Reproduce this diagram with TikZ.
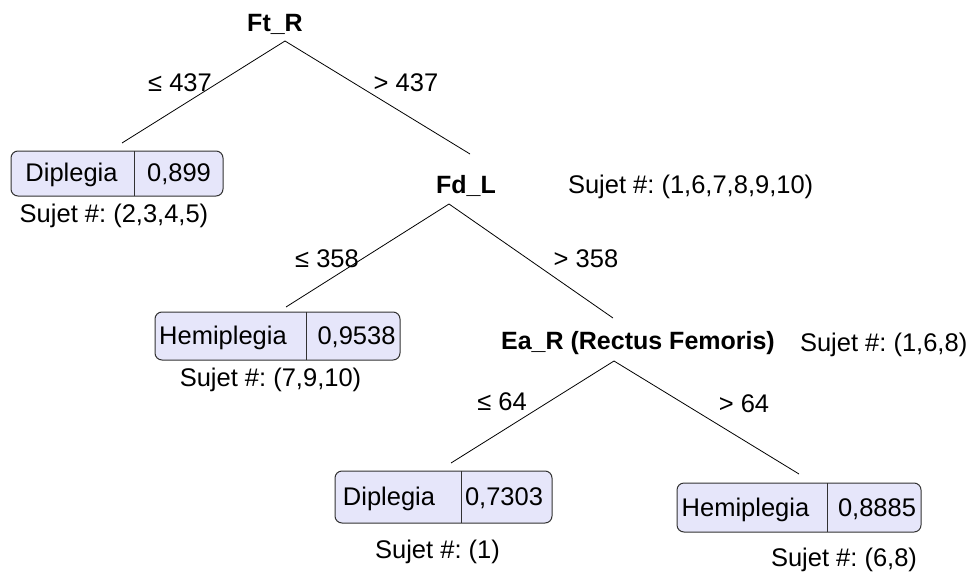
\documentclass[tikz,border=0pt]{standalone}
\usepackage{fontspec}
\setmainfont{Liberation Sans}
\frenchspacing
\definecolor{leaffill}{RGB}{230,230,250}
\definecolor{leafline}{RGB}{50,50,50}
\begin{document}
\begin{tikzpicture}[x=1pt,y=-1pt,
  every node/.style={font=\fontsize{25.5}{30}\selectfont\frenchspacing, inner sep=0pt, outer sep=0pt},
  leafbox/.style={draw=leafline, fill=leaffill, rounded corners=7pt, line width=1pt},
  txt/.style={anchor=base},
  txtw/.style={anchor=base west},
  splitlbl/.style={anchor=base, font=\fontsize{25}{30}\selectfont\bfseries},
  edgeline/.style={line width=0.8pt, black},
  divider/.style={line width=1pt, leafline}]
\path[use as bounding box] (0,0) rectangle (973,583);

% split nodes
\node[splitlbl] (ftr) at (275,32) {Ft\_R};
\node[splitlbl] (fdl) at (466,193) {Fd\_L};
\node[splitlbl] (ear) at (638,349) {Ea\_R (Rectus Femoris)};

\coordinate (ftrA) at (285,41);
\coordinate (fdlA) at (449,204);
\coordinate (earA) at (614,361);
\coordinate (e1L) at (122,143);
\coordinate (e1R) at (470,154);
\coordinate (e2L) at (286,307);
\coordinate (e2R) at (613,318);
\coordinate (e3L) at (451,463);
\coordinate (e3R) at (799,474);

\draw[edgeline] (ftrA) -- (e1L);
\draw[edgeline] (ftrA) -- (e1R);
\draw[edgeline] (fdlA) -- (e2L);
\draw[edgeline] (fdlA) -- (e2R);
\draw[edgeline] (earA) -- (e3L);
\draw[edgeline] (earA) -- (e3R);

% edge labels
\node[txt] (t1) at (180,92) {≤ 437};
\node[txt] (t2) at (406,92) {> 437};
\node[txt] (t3) at (327,267) {≤ 358};
\node[txt] (t4) at (586,267) {> 358};
\node[txt] (t5) at (502,410) {≤ 64};
\node[txt] (t6) at (744,412) {> 64};

% leaf 1
\node[leafbox, minimum width=212pt, minimum height=45pt] (l1) at (117,173.5) {};
\coordinate (l1d) at (134,0);
\draw[divider] (l1d |- l1.north) -- (l1d |- l1.south);
\node[txt] (l1a) at (71.5,181.5) {Diplegia};
\node[txt] (l1b) at (179,181.5) {0,899};
\node[txt] (s1) at (114,222) {Sujet \#: (2,3,4,5)};

% leaf 2
\node[leafbox, minimum width=245pt, minimum height=48pt] (l2) at (277.5,336) {};
\coordinate (l2d) at (306,0);
\draw[divider] (l2d |- l2.north) -- (l2d |- l2.south);
\node[txt] (l2a) at (223,344.5) {Hemiplegia};
\node[txt] (l2b) at (356.5,344.5) {0,9538};
\node[txt] (s2) at (270.5,386) {Sujet \#: (7,9,10)};

% leaf 3
\node[leafbox, minimum width=217pt, minimum height=52pt] (l3) at (443.5,497) {};
\coordinate (l3d) at (461,0);
\draw[divider] (l3d |- l3.north) -- (l3d |- l3.south);
\node[txt] (l3a) at (389,505.5) {Diplegia};
\node[txt] (l3b) at (504,505.5) {0,7303};
\node[txt] (s3) at (437.5,558) {Sujet \#: (1)};

% leaf 4
\node[leafbox, minimum width=244pt, minimum height=49pt] (l4) at (799,507.5) {};
\coordinate (l4d) at (827,0);
\draw[divider] (l4d |- l4.north) -- (l4d |- l4.south);
\node[txt] (l4a) at (745.5,516) {Hemiplegia};
\node[txt] (l4b) at (877,516) {0,8885};
\node[txt] (s4) at (844,566) {Sujet \#: (6,8)};

% subject lists of split nodes
\node[txtw] (sf) at (568,193) {Sujet \#: (1,6,7,8,9,10)};
\node[txtw] (se) at (800,351) {Sujet \#: (1,6,8)};
\end{tikzpicture}
\end{document}
